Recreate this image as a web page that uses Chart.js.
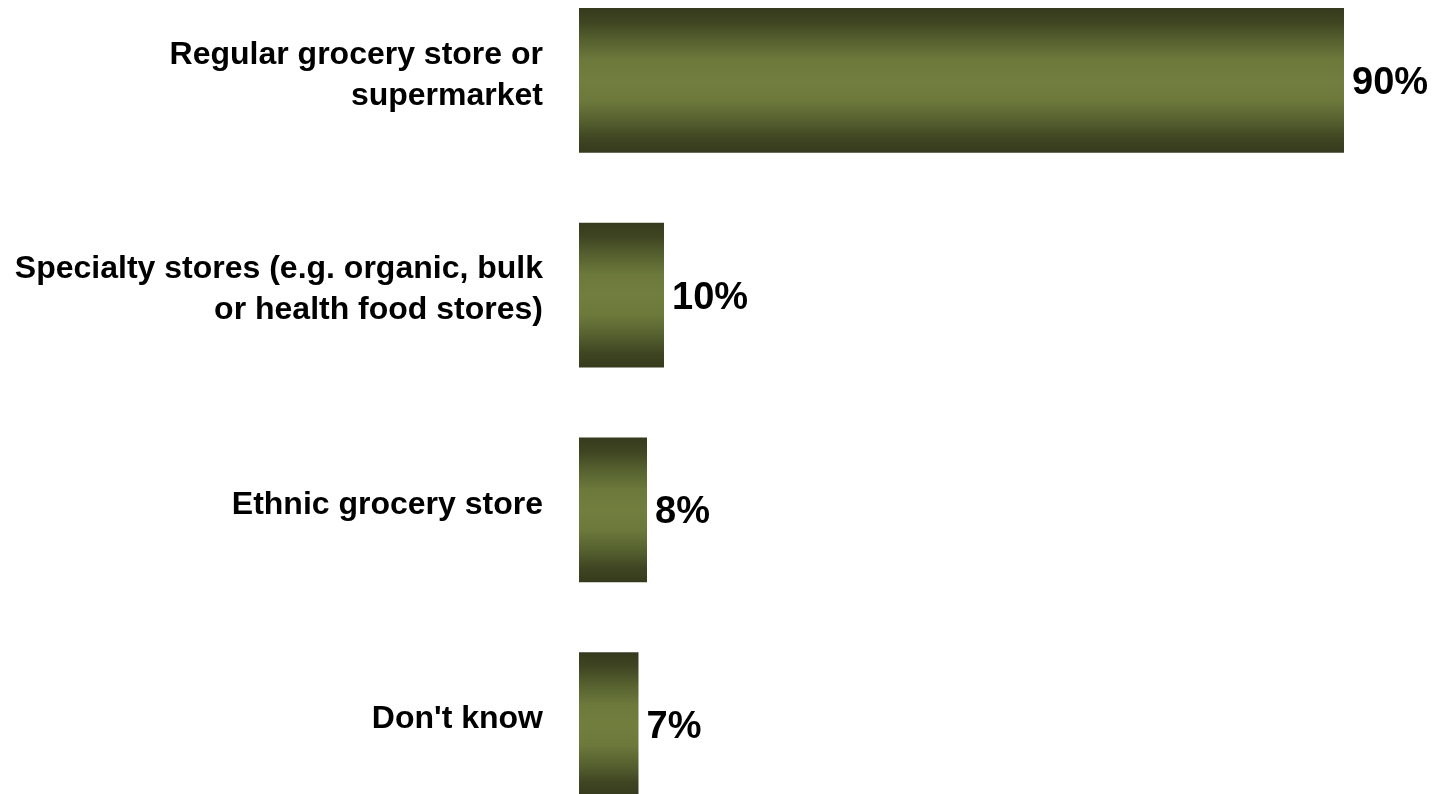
<!DOCTYPE html>
<html>
<head>
<meta charset="utf-8">
<title>Where do you usually buy groceries?</title>
<script src="https://cdn.jsdelivr.net/npm/chart.js@4/dist/chart.umd.min.js"></script>
<style>
  html, body { margin: 0; padding: 0; background: #ffffff; overflow: hidden; }
  body { width: 1438px; height: 794px; position: relative; }
  #wrap { position: absolute; left: 0; top: -27px; width: 1438px; height: 859px; }
</style>
</head>
<body>
<div id="wrap"><canvas id="chart"></canvas></div>
<script>
// Store types (multi-line labels) and share of respondents, in percent
const categories = [
  ['Regular grocery store or', 'supermarket'],
  ['Specialty stores (e.g. organic, bulk', 'or health food stores)'],
  ['Ethnic grocery store'],
  ["Don't know"]
];
const shares = [90, 10, 8, 7];
const valueLabels = ['90%', '10%', '8%', '7%'];

const FONT = "'Liberation Sans', Arial, Helvetica, sans-serif";
const BAR_FRACTION = 0.675;

// Category axis whose tick labels sit a few pixels above the bar centre
class RaisedCategoryScale extends Chart.CategoryScale {
  _computeLabelItems(chartArea) {
    const items = super._computeLabelItems(chartArea);
    const dy = this.options.ticks.raise || 0;
    items.forEach(item => { item.options.translation[1] -= dy; });
    return items;
  }
}
RaisedCategoryScale.id = 'raisedCategory';
RaisedCategoryScale.defaults = Chart.CategoryScale.defaults;
Chart.register(RaisedCategoryScale);

// Olive bar shaded dark at the top and bottom edges
function barFill(ctx) {
  const chart = ctx.chart;
  const yScale = chart.scales.y;
  if (!chart.chartArea || !yScale || ctx.dataIndex === undefined) return '#6c793b';
  const centre = yScale.getPixelForTick(ctx.dataIndex);
  const half = (yScale.height / categories.length) * BAR_FRACTION / 2;
  const g = chart.ctx.createLinearGradient(0, centre - half, 0, centre + half);
  g.addColorStop(0.00, '#363a1d');
  g.addColorStop(0.10, '#3f4522');
  g.addColorStop(0.22, '#55602f');
  g.addColorStop(0.36, '#6c793b');
  g.addColorStop(0.50, '#717e3e');
  g.addColorStop(0.64, '#6c793b');
  g.addColorStop(0.78, '#55602f');
  g.addColorStop(0.90, '#3f4522');
  g.addColorStop(1.00, '#363a1d');
  return g;
}

// Percentage written just past the end of each bar
const valueLabelPlugin = {
  id: 'valueLabels',
  afterDatasetsDraw(chart) {
    const meta = chart.getDatasetMeta(0);
    const c = chart.ctx;
    c.save();
    c.font = "bold 38px " + FONT;
    c.fillStyle = '#000000';
    c.textAlign = 'left';
    c.textBaseline = 'middle';
    meta.data.forEach((bar, i) => {
      c.fillText(valueLabels[i], bar.x + 8, bar.y + 3);
    });
    c.restore();
  }
};

new Chart(document.getElementById('chart'), {
  type: 'bar',
  data: {
    labels: categories,
    datasets: [{
      data: shares,
      backgroundColor: barFill,
      borderWidth: 0,
      barPercentage: BAR_FRACTION,
      categoryPercentage: 1.0
    }]
  },
  options: {
    indexAxis: 'y',
    responsive: true,
    maintainAspectRatio: false,
    animation: false,
    layout: { padding: { left: 0, right: 9, top: 0, bottom: 0 } },
    plugins: {
      legend: { display: false },
      tooltip: { enabled: false }
    },
    scales: {
      x: {
        display: false,
        min: 0,
        max: 100
      },
      y: {
        type: 'raisedCategory',
        grid: { display: false, drawTicks: false },
        border: { display: false },
        ticks: {
          padding: 36,
          raise: 5,
          color: '#000000',
          font: { family: FONT, size: 32, weight: 'bold', lineHeight: 1.28 }
        },
        afterFit(scale) {
          scale.width = 579;
          scale.paddingTop = 0;
          scale.paddingBottom = 0;
        }
      }
    }
  },
  plugins: [valueLabelPlugin]
});
</script>
</body>
</html>
